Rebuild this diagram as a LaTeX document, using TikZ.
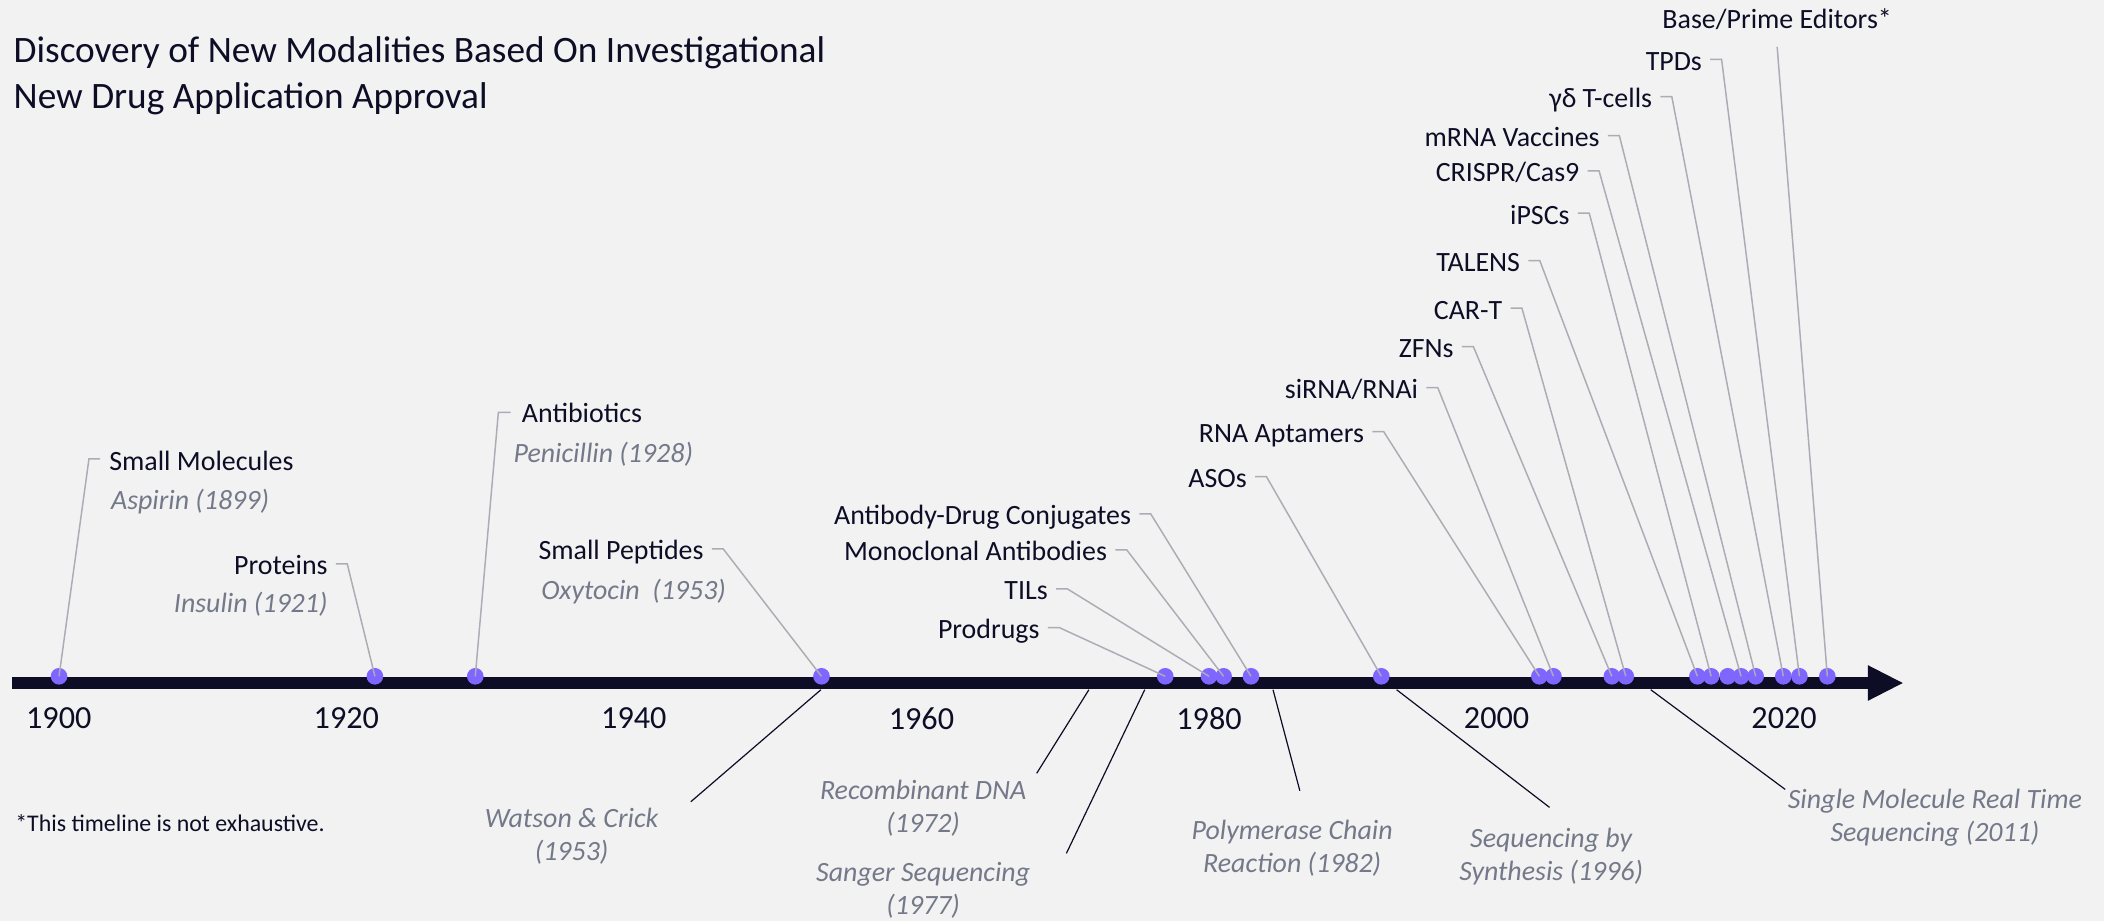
\documentclass[tikz,border=0pt]{standalone}
\usepackage{fontspec}
\setmainfont{Carlito}
\usetikzlibrary{arrows.meta}

\definecolor{paper}{HTML}{F2F2F2}
\definecolor{ink}{HTML}{0D0D26}
\definecolor{dotviolet}{HTML}{7F66FF}
\definecolor{slate}{HTML}{747989}
\definecolor{leadgrey}{HTML}{ABADB5}

\tikzset{
  mlabel/.style={font=\fontsize{20.8}{25}\selectfont, text=ink, inner sep=0pt, text height=13.5pt, text depth=0pt},
  mnote/.style={mlabel, font=\fontsize{20.8}{25}\selectfont\itshape, text=slate},
  event/.style={font=\fontsize{20.8}{24.9}\selectfont\itshape, text=slate, align=center, inner sep=0pt},
  mdot/.style={circle, fill=dotviolet, minimum size=12.4pt, inner sep=0pt},
  leadline/.style={draw=leadgrey, line width=1.1pt},
  eventline/.style={draw=ink, line width=0.9pt},
  yearlabel/.style={font=\fontsize{24}{29}\selectfont, text=ink, inner sep=0pt},
  axisline/.style={draw=ink, line width=8.5pt, -{Triangle[length=26pt, width=26.6pt, line width=0pt]}},
}

\begin{document}
\begin{tikzpicture}[x=1pt, y=-1pt]
 \useasboundingbox (0,0) rectangle (1568,686);
 \fill[paper] (0,0) rectangle (1568,686);

 % title and footnote
 \node[font=\fontsize{27.8}{34.3}\selectfont, text=ink, anchor=north west, align=left, inner sep=0pt] (title) at (10,27)
  {Discovery of New Modalities Based On Investigational\\New Drug Application Approval};
 \node[font=\fontsize{17.8}{21}\selectfont, text=ink, anchor=west, inner sep=0pt] (footnote) at (11.2,613.6)
  {*This timeline is not exhaustive.};

 % time axis
 \coordinate (axis-start) at (9,509);
 \coordinate (axis-end) at (1418,509);
 \draw[axisline] (axis-start) -- (axis-end);
 \foreach \yr [count=\i from 0] in {1900,1920,1940,1960,1980,2000,2020}
  \node[yearlabel] (y\yr) at (43.8+214.3*\i,535.4) {\yr};

 % dots on the axis
 \foreach \id/\dx in {smallmol/44, proteins/279.4, antibio/354.2, smallpep/612.2,
   prodrugs/868.4, tils/901, mabs/911.9, adc/932.3, asos/1029.4, aptamers/1147.2,
   sirna/1157.7, zfns/1201.2, cart/1211.6, talens/1265, ipscs/1275.2, extra/1287.6,
   crispr/1297.5, mrna/1308.4, gdt/1329, tpds/1341, bpe/1361.8}
  \node[mdot] (d-\id) at (\dx,504) {};

 % modalities, text left of the leader
 \foreach \id/\txt/\lx/\ly in {proteins/Proteins/244.3/421.6,
   smallpep/Small Peptides/524.5/410.4, prodrugs/Prodrugs/774.9/469,
   tils/TILs/781/440.2, mabs/Monoclonal Antibodies/825.2/411.1,
   adc/Antibody-Drug Conjugates/843.1/384.3, asos/ASOs/929.3/356.5,
   aptamers/RNA Aptamers/1016.7/323, sirna/{siRNA/RNAi}/1057/290.2,
   zfns/ZFNs/1083.5/259.6, cart/CAR-T/1119.7/231, talens/TALENS/1133/195.5,
   ipscs/iPSCs/1169.9/160.2, crispr/{CRISPR/Cas9}/1177.2/128.7,
   mrna/mRNA Vaccines/1192.3/102.3, gdt/γδ T-cells/1231.4/73.3,
   tpds/TPDs/1268.5/45.5}
 {
  \node[mlabel, anchor=east] (\id) at (\lx,\ly) {\txt};
  \draw[leadline] ([xshift=6pt,yshift=1.3pt]\id.east) -- ++(8.5,0) -- (d-\id.center);
 }

 % modalities, text right of the leader
 \node[mlabel, anchor=west] (smallmol) at (81.3,344) {Small Molecules};
 \draw[leadline] ([xshift=-6.6pt,yshift=2pt]smallmol.west) -- ++(-8.4,0) -- (d-smallmol.center);
 \node[mlabel, anchor=west] (antibio) at (388.8,308) {Antibiotics};
 \draw[leadline] ([xshift=-8.2pt,yshift=0.7pt]antibio.west) -- ++(-9.2,0) -- (d-antibio.center);
 \node[mlabel] (bpe) at (1324.4,14.4) {Base/Prime Editors*};
 \draw[leadline] ([yshift=-13.6pt]bpe.south) -- (d-bpe.center);

 % first examples
 \node[mnote, anchor=west] (aspirin) at ([xshift=1.3pt,yshift=-28.7pt]smallmol.west) {Aspirin (1899)};
 \node[mnote, anchor=east] (insulin) at ([yshift=-28.1pt]proteins.east) {Insulin (1921)};
 \node[mnote, anchor=west] (penicillin) at ([xshift=-6.2pt,yshift=-29.9pt]antibio.west) {Penicillin (1928)};
 \node[mnote, anchor=west] (oxytocin) at ([xshift=2pt,yshift=-29.8pt]smallpep.west) {Oxytocin\ \ (1953)};

 % technologies below the axis
 \node[event] (watson) at (426,623.2) {Watson \& Crick\\(1953)};
 \node[event] (recomb) at (688,602.5) {Recombinant DNA\\(1972)};
 \node[event] (sanger) at (688,663.3) {Sanger Sequencing\\(1977)};
 \node[event] (pcr) at (963,632.3) {Polymerase Chain\\Reaction (1982)};
 \node[event] (sbs) at (1156,638.5) {Sequencing by\\Synthesis (1996)};
 \node[event] (smrt) at (1442,609.4) {Single Molecule Real Time\\Sequencing (2011)};
 \foreach \id/\bx/\ex/\ey in {watson/611.8/514.8/597.5, recomb/811.5/772.6/576.3,
   sanger/853.1/794.7/636, pcr/948.7/968.7/589.3, sbs/1040.8/1154.8/601.7,
   smrt/1230.2/1330.4/588.3}
 {
  \coordinate (\id-bar) at (\bx,514);
  \coordinate (\id-tip) at (\ex,\ey);
  \draw[eventline] (\id-bar) -- (\id-tip);
 }
\end{tikzpicture}
\end{document}
